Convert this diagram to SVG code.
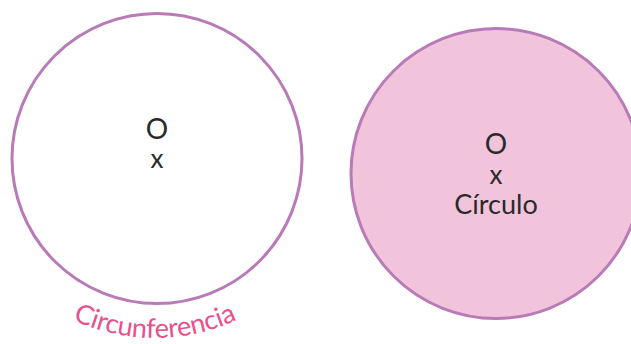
<svg xmlns="http://www.w3.org/2000/svg" width="631" height="344" viewBox="0 0 631 344">
<style>
.ring{stroke:#b97bb8;stroke-width:3}
.t{font-family:Lato,"Open Sans","Noto Sans",sans-serif;fill:#2a2a2a;text-anchor:middle}
.lbl{font-family:Lato,"Open Sans","Noto Sans",sans-serif;fill:#e8508e;font-size:27px}
</style>
<defs>
<path id="arc" d="M 50 307.3 A 195 195 0 0 0 260 307.3"/>
</defs>
<rect width="631" height="344" fill="#fff"/>
<g id="circunferencia">
<circle class="ring" cx="157" cy="158.5" r="145" fill="#fff"/>
<text class="t" x="157" y="139" font-size="28">O</text>
<text class="t" x="157" y="168" font-size="26">x</text>
<text class="lbl"><textPath href="#arc" startOffset="50%" text-anchor="middle" textLength="170" lengthAdjust="spacing">Circunferencia</textPath></text>
</g>
<g id="circulo">
<circle class="ring" cx="496" cy="173.5" r="145" fill="#f2c4dc"/>
<text class="t" x="496" y="154" font-size="28">O</text>
<text class="t" x="496" y="184" font-size="26">x</text>
<text class="t" x="496" y="214" font-size="27">Círculo</text>
</g>
<g id="connectors"/>
</svg>
